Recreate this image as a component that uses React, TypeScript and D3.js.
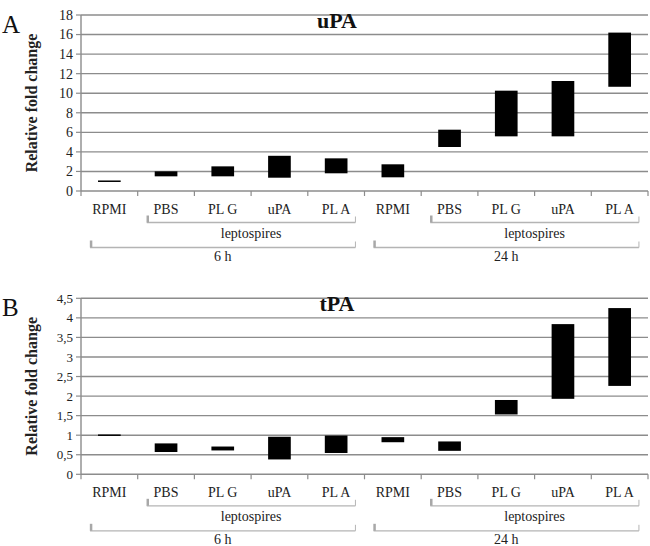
import React from "react";
import * as d3 from "d3";

const categories = ["RPMI", "PBS", "PL G", "uPA", "PL A", "RPMI", "PBS", "PL G", "uPA", "PL A"];
const uPALow = [1.0, 1.5, 1.5, 1.36, 1.81, 1.4, 4.5, 5.59, 5.59, 10.66];
const uPAHigh = [1.0, 2.01, 2.52, 3.6, 3.34, 2.73, 6.27, 10.26, 11.25, 16.2];
const tPALow = [1.0, 0.57, 0.61, 0.38, 0.545, 0.82, 0.6, 1.53, 1.93, 2.26];
const tPAHigh = [1.0, 0.79, 0.71, 0.96, 0.99, 0.95, 0.84, 1.9, 3.84, 4.25];
const uPATicks = [0, 2, 4, 6, 8, 10, 12, 14, 16, 18];
const tPATicks = [0, 0.5, 1, 1.5, 2, 2.5, 3, 3.5, 4, 4.5];
const innerGroups = [
  { label: "leptospires", from: 1, to: 4 },
  { label: "leptospires", from: 6, to: 9 },
];
const outerGroups = [
  { label: "6 h", from: 0, to: 4 },
  { label: "24 h", from: 5, to: 9 },
];

const FONT = "Liberation Serif, Tinos, Times New Roman, Times, DejaVu Serif, Noto Serif, serif";

type PanelProps = {
  letter: string;
  title: string;
  low: number[];
  high: number[];
  ticks: number[];
  yTop: number;
  yZero: number;
  fmt: (v: number) => string;
  tickFont: number;
};

function Panel({ letter, title, low, high, ticks, yTop, yZero, fmt, tickFont }: PanelProps) {
  const x = d3
    .scaleBand<number>()
    .domain(categories.map((_, i) => i))
    .range([81, 648]);
  const y = d3
    .scaleLinear()
    .domain([0, ticks[ticks.length - 1]])
    .range([yZero, yTop]);
  const bw = x.bandwidth();
  const barW = bw * 0.4;
  const ext = bw * 0.34;
  const cx = (i: number) => (x(i) as number) + bw / 2;
  const gridColor = "#8c8c8c";
  const bracketColor = "#b4b4b4";

  const bracket = (from: number, to: number, yy: number, label: string, ly: number, key: string) => {
    const x0 = cx(from) - ext;
    const x1 = cx(to) + ext;
    return (
      <g key={key}>
        <line x1={x0} x2={x1} y1={yy} y2={yy} stroke={bracketColor} strokeWidth={1.3} />
        <line x1={x0 + 1} x2={x0 + 1} y1={yy - 7} y2={yy} stroke="#a8a8a8" strokeWidth={2.5} />
        <line x1={x1} x2={x1} y1={yy - 6} y2={yy} stroke={bracketColor} strokeWidth={1} />
        <text x={(x0 + x1) / 2} y={ly} textAnchor="middle" fontSize={14} fill="#222" style={{ fontFamily: FONT }}>
          {label}
        </text>
      </g>
    );
  };

  return (
    <g>
      <text x={2} y={yTop + 18} fontSize={25} fill="#111" style={{ fontFamily: FONT }}>
        {letter}
      </text>
      {ticks.map((t) => (
        <g key={"t" + t}>
          <line x1={81} x2={648} y1={y(t)} y2={y(t)} stroke={gridColor} strokeWidth={1.4} />
          <line x1={76} x2={81} y1={y(t)} y2={y(t)} stroke={gridColor} strokeWidth={1.2} />
          <text
            x={73}
            y={y(t)}
            dy="0.35em"
            textAnchor="end"
            fontSize={tickFont}
            fill="#222"
            style={{ fontFamily: FONT }}
          >
            {fmt(t)}
          </text>
        </g>
      ))}
      <line x1={81} x2={81} y1={yTop} y2={yZero} stroke={gridColor} strokeWidth={1.4} />
      {categories.map((_, i) => (
        <line
          key={"xt" + i}
          x1={(x(i) as number) + bw}
          x2={(x(i) as number) + bw}
          y1={yZero}
          y2={yZero + 5}
          stroke={gridColor}
          strokeWidth={1.2}
        />
      ))}
      <line x1={81} x2={81} y1={yZero} y2={yZero + 5} stroke={gridColor} strokeWidth={1.2} />
      <text
        transform={`translate(37,${(yTop + yZero) / 2}) rotate(-90)`}
        textAnchor="middle"
        fontSize={16}
        fontWeight="bold"
        fill="#222"
        style={{ fontFamily: FONT }}
      >
        Relative fold change
      </text>
      <text
        x={337}
        y={yTop + 13}
        textAnchor="middle"
        fontSize={22}
        fontWeight="bold"
        fill="#111"
        style={{ fontFamily: FONT }}
      >
        {title}
      </text>
      {categories.map((_, i) => {
        const top = y(high[i]);
        const bot = y(low[i]);
        const h = Math.max(bot - top, 1.5);
        return (
          <rect
            key={"b" + i}
            x={cx(i) - barW / 2}
            y={bot - top < 1.5 ? top - 0.75 : top}
            width={barW}
            height={h}
            fill="#000"
          />
        );
      })}
      {categories.map((c, i) => (
        <text
          key={"c" + i}
          x={cx(i)}
          y={yZero + 23}
          textAnchor="middle"
          fontSize={14}
          fill="#222"
          style={{ fontFamily: FONT }}
        >
          {c}
        </text>
      ))}
      {innerGroups.map((g, k) => bracket(g.from, g.to, yZero + 31.5, g.label, yZero + 47, "ig" + k))}
      {outerGroups.map((g, k) => bracket(g.from, g.to, yZero + 56.5, g.label, yZero + 69.5, "og" + k))}
    </g>
  );
}

const fmtA = (v: number) => String(v);
const fmtB = (v: number) => String(v).replace(".", ",");

export default function App() {
  return (
    <svg
      width={650}
      height={546}
      style={{ position: "absolute", left: 0, top: 0, background: "#fff" }}
    >
      <rect width={650} height={546} fill="#fff" />
      <Panel
        letter="A"
        title="uPA"
        low={uPALow}
        high={uPAHigh}
        ticks={uPATicks}
        yTop={15}
        yZero={191}
        fmt={fmtA}
        tickFont={14}
      />
      <Panel
        letter="B"
        title="tPA"
        low={tPALow}
        high={tPAHigh}
        ticks={tPATicks}
        yTop={298.3}
        yZero={474.3}
        fmt={fmtB}
        tickFont={13}
      />
    </svg>
  );
}
